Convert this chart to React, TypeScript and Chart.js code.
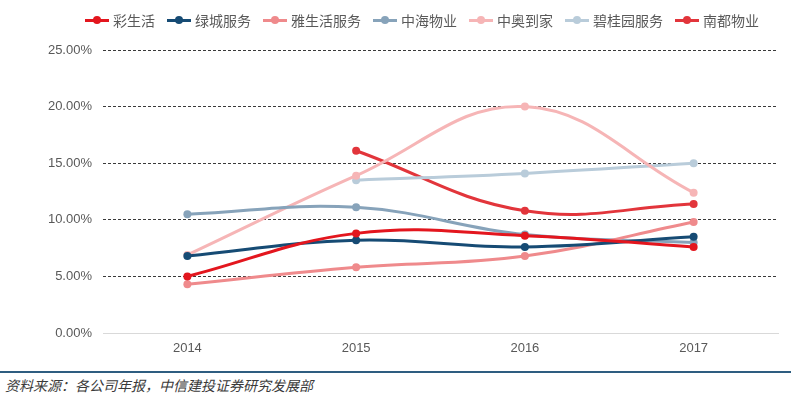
import React, { useEffect, useRef } from "react";
import { Chart, registerables } from "chart.js";

Chart.register(...registerables);

const categories = ["2014", "2015", "2016", "2017"];
const seriesNames = ["彩生活", "绿城服务", "雅生活服务", "中海物业", "中奥到家", "碧桂园服务", "南都物业"];
const caishenghuo = [5.0, 8.8, 8.6, 7.6];
const lvcheng = [6.8, 8.2, 7.6, 8.5];
const yashenghuo = [4.3, 5.8, 6.8, 9.8];
const zhonghai = [10.5, 11.1, 8.7, 8.0];
const zhongao = [6.9, 13.9, 20.0, 12.4];
const biguiyuan = [null, 13.5, 14.1, 15.0];
const nandu = [null, 16.1, 10.8, 11.4];
const seriesValues = [caishenghuo, lvcheng, yashenghuo, zhonghai, zhongao, biguiyuan, nandu];
const seriesColors = ["#e3161e", "#164b74", "#ef8a8c", "#87a3ba", "#f6b5b6", "#b9ccda", "#e2353b"];
const yTicks = [0, 5, 10, 15, 20, 25];
const sourceNote = "资料来源：各公司年报，中信建投证券研究发展部";

export default function App() {
  const canvasRef = useRef<HTMLCanvasElement | null>(null);

  useEffect(() => {
    if (!canvasRef.current) return;
    const chart = new Chart(canvasRef.current, {
      type: "line",
      data: {
        labels: categories,
        datasets: seriesNames.map((name, i) => ({
          label: name,
          data: seriesValues[i] as any,
          borderColor: seriesColors[i],
          backgroundColor: seriesColors[i],
          pointBackgroundColor: seriesColors[i],
          pointBorderColor: seriesColors[i],
          borderWidth: 3,
          pointRadius: 4,
          pointBorderWidth: 0,
          tension: 0.4,
          spanGaps: false,
          fill: false,
        })),
      },
      options: {
        animation: false,
        responsive: false,
        maintainAspectRatio: false,
        layout: { padding: { top: 50, right: 13, left: 0, bottom: 0 } },
        plugins: {
          legend: { display: false },
          tooltip: { enabled: false },
        },
        scales: {
          x: {
            offset: true,
            grid: { display: false, drawTicks: false },
            border: { display: true, color: "#d9d9d9", width: 1 },
            ticks: {
              padding: 8,
              color: "#595959",
              font: { family: "'Liberation Sans', Arial, sans-serif", size: 13 },
            },
            afterFit: (scale: any) => {
              scale.height = 32;
            },
          },
          y: {
            min: 0,
            max: 25,
            afterBuildTicks: (scale: any) => {
              scale.ticks = yTicks.map((v) => ({ value: v }));
            },
            grid: {
              color: (ctx: any) => (ctx.tick && ctx.tick.value === 0 ? "rgba(0,0,0,0)" : "#3a3a3a"),
              lineWidth: 1,
              drawTicks: false,
            },
            border: { display: false, dash: [3, 2] },
            ticks: {
              padding: 11,
              color: "#595959",
              font: { family: "'Liberation Sans', Arial, sans-serif", size: 13 },
              callback: (v: any) => Number(v).toFixed(2) + "%",
            },
            afterFit: (scale: any) => {
              scale.width = 103;
            },
          },
        },
      },
    });
    return () => chart.destroy();
  }, []);

  return (
    <div style={{ position: "fixed", left: 0, top: 0, width: 791, height: 400, background: "#fff", overflow: "hidden" }}>
      <canvas ref={canvasRef} width={791} height={365} style={{ position: "absolute", left: 0, top: 0, width: 791, height: 365 }} />
      <div
        style={{
          position: "absolute",
          left: 85,
          top: 11,
          display: "flex",
          alignItems: "center",
          fontFamily: "'Noto Sans CJK SC', sans-serif",
          fontSize: 14,
          color: "#595959",
          lineHeight: "18px",
          whiteSpace: "nowrap",
        }}
      >
        {seriesNames.map((name, i) => (
          <div key={name} style={{ display: "flex", alignItems: "center", marginRight: i < seriesNames.length - 1 ? 12 : 0 }}>
            <div style={{ position: "relative", width: 24, height: 8, marginRight: 4 }}>
              <div style={{ position: "absolute", left: 0, top: 2.5, width: 24, height: 3, background: seriesColors[i] }} />
              <div style={{ position: "absolute", left: 8, top: 0, width: 8, height: 8, borderRadius: 4, background: seriesColors[i] }} />
            </div>
            <span>{name}</span>
          </div>
        ))}
      </div>
      <div style={{ position: "absolute", left: 0, top: 371, width: 791, height: 2, background: "#2e5d80" }} />
      <div
        style={{
          position: "absolute",
          left: 5,
          top: 376,
          fontFamily: "'Noto Sans CJK SC', sans-serif",
          fontStyle: "italic",
          fontSize: 14,
          color: "#3a3a3a",
          lineHeight: "18px",
          whiteSpace: "nowrap",
        }}
      >
        {sourceNote}
      </div>
    </div>
  );
}
